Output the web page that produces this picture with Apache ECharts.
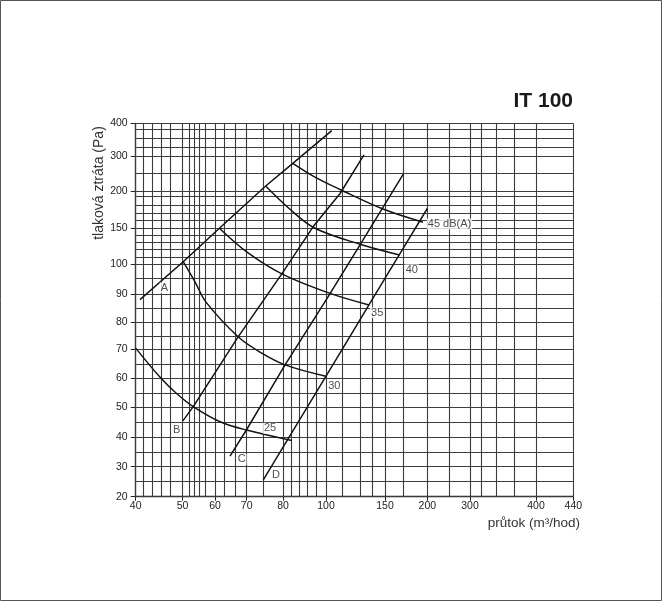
<!DOCTYPE html>
<html><head><meta charset="utf-8">
<script src="https://cdn.jsdelivr.net/npm/echarts@6/dist/echarts.min.js"></script>
<style>html,body{margin:0;padding:0;background:#fff}#c{width:662px;height:601px}</style>
</head><body><div id="c"></div>
<script>
// ---- tick labels ----
const xLabelValues = [40,50,60,70,80,100,150,200,300,400,440];
const yLabelValues = [20,30,40,50,60,70,80,90,100,150,200,300,400];

// ---- grid line values and the (non-standard) scale calibration of the original paper ----
const xGridValues = [40,42,44,46,48,50,52,54,56,58,60,63,67,70,75,80,84,88,92,96,100,110,125,135,150,175,200,250,300,325,350,375,400,440];
const xScaleDist  = [0,7.8,16.3,25.3,35,46.8,53.8,58.8,63.8,69.3,79.3,88.8,99.3,111,127.6,147.3,155.5,163.5,171.6,180.1,190.3,206.3,224.8,236.3,249.3,267.6,291.6,313.6,334.3,346,360.3,378.3,400.3,437.6];
const yGridValues = [20,25,30,35,40,45,50,55,60,65,70,75,80,85,90,95,100,110,120,130,140,150,160,170,180,190,200,250,300,325,350,375,400];
const yScaleDist  = [0,15,30,44.7,59.7,74.7,89.2,103.7,118.2,132.7,147.2,160.7,174.2,188.7,202.7,218.2,232.7,239.7,247.7,254.7,261.7,268.7,276,283.7,291.2,300.2,305.2,323.2,340.7,349.4,358.4,367.2,373.2];

// ---- system lines (flow m3/hod, pressure Pa) ----
const lineA = [[41.1,88],[50.2,103.3],[61.4,149.6],[75.6,215.3],[84.8,279],[103.6,372]];
const lineB = [[50.1,45.4],[53.5,50.3],[67.8,74.7],[79.7,96.6],[94.8,152],[108.8,196],[128,303]];
const lineC = [[65.1,33.6],[70,42.5],[81,64.7],[100.4,88.2],[124.6,126],[175,248]];
const lineD = [[75,25.6],[81.8,38.6],[100.4,61.2],[108.8,68.8],[134.7,87.7],[175,121.4],[200,176]];

// ---- noise curves dB(A) ----
const curve25 = [[40,70.5],[45.8,60.4],[48.9,55],[53.5,50.3],[61.6,45.1],[70,42.3],[84.3,38.8]];
const curve30 = [[50.2,103.3],[54.2,93.9],[58.2,87.1],[67.8,74.7],[74,69.1],[81,64.7],[100.6,60.7]];
const curve35 = [[61.4,149.6],[70.1,116],[79.7,96.6],[102.5,90.2],[132.4,86.1]];
const curve40 = [[75.6,215.3],[83.4,175],[95.4,150],[125.4,126.4],[169.8,112.5]];
const curve45 = [[84.8,279],[95.6,240],[108.8,205.6],[147.7,175.3],[195.5,158]];

// ---- in-chart labels ----
const markNames = ['A','B','C','D','25','30','35','40','45 dB(A)'];
const markAt = [[46.7,92],[49,42.3],[68.7,32.5],[78.2,27.2],[76.7,42.9],[105.2,57.4],[141,83.4],[183.8,98],[250.5,155.5]];

function interp(vals, dists, v){
  let i = 0;
  while (i < vals.length - 2 && v > vals[i+1]) i++;
  const t = (v - vals[i]) / (vals[i+1] - vals[i]);
  return dists[i] + t * (dists[i+1] - dists[i]);
}
const fx = v => interp(xGridValues, xScaleDist, v);
const fy = v => interp(yGridValues, yScaleDist, v);
const toAxis = arr => arr.map(p => [fx(p[0]), fy(p[1])]);
function backLabel(list, f, u){
  let best = list[0], bd = 1e9;
  list.forEach(v => { const d = Math.abs(f(v) - u); if (d < bd){bd = d; best = v;} });
  return String(best);
}

const XMAX = xScaleDist[xScaleDist.length-1];
const YMAX = yScaleDist[yScaleDist.length-1];
const FONT = '"Liberation Sans", Arial, sans-serif';
const ink = '#141414';

const gridLines = [];
xGridValues.forEach(v => gridLines.push({xAxis: fx(v)}));
yGridValues.forEach(v => gridLines.push({yAxis: fy(v)}));

const curveStyle = {color: ink, width: 1.5};
function lineSeries(name, data, smooth){
  return {name, type:'line', data: toAxis(data), symbol:'none', smooth: smooth ? 0.35 : false,
    lineStyle: curveStyle, z: 5, silent: true, animation: false};
}

const chart = echarts.init(document.getElementById('c'), null, {renderer:'canvas'});
chart.setOption({
  backgroundColor: '#fff',
  animation: false,
  title: {text:'IT 100', right: 84, top: 86,
    textStyle:{fontFamily: FONT, fontSize: 21, fontWeight:'bold', color:'#1a1a1a'}},
  grid: {left: 135.7, right: 88.7, top: 123.5, bottom: 104.3, containLabel: false},
  xAxis: {type:'value', min:0, max:XMAX,
    axisLine:{show:true, lineStyle:{color:'#222', width:1.3}},
    splitLine:{show:false},
    axisTick:{show:true, customValues: xLabelValues.map(fx), length:4, lineStyle:{color:'#222'}},
    axisLabel:{customValues: xLabelValues.map(fx), margin:4, fontSize:10.5, fontFamily:FONT, color:'#222',
      formatter: u => backLabel(xLabelValues, fx, u)}},
  yAxis: {type:'value', min:0, max:YMAX,
    axisLine:{show:true, lineStyle:{color:'#222', width:1.3}},
    splitLine:{show:false},
    axisTick:{show:true, customValues: yLabelValues.map(fy), length:5, lineStyle:{color:'#222'}},
    axisLabel:{customValues: yLabelValues.map(fy), margin:8, fontSize:10.5, fontFamily:FONT, color:'#222',
      formatter: u => backLabel(yLabelValues, fy, u)}},
  graphic: [
    {type:'rect', shape:{x:0.5, y:0.5, width:661, height:600}, style:{fill:null, stroke:'#555', lineWidth:1}, silent:true},
    {type:'text', x:99, y:183, rotation: Math.PI/2, silent:true,
      style:{text:'tlaková ztráta (Pa)', font:'14px ' + FONT, fill:'#333', textAlign:'center', textVerticalAlign:'middle'}},
    {type:'text', x:580, y:523, silent:true,
      style:{text:'průtok (m³/hod)', font:'13.5px ' + FONT, fill:'#333', textAlign:'right', textVerticalAlign:'middle'}}
  ],
  series: [
    {name:'grid', type:'line', data:[], silent:true, z:1,
      markLine:{silent:true, symbol:['none','none'], label:{show:false}, animation:false,
        lineStyle:{color:'#3c3c3c', width:1.1, type:'solid'}, emphasis:{disabled:true}, data: gridLines}},
    lineSeries('A', lineA, false),
    lineSeries('B', lineB, false),
    lineSeries('C', lineC, false),
    lineSeries('D', lineD, false),
    lineSeries('25', curve25, true),
    lineSeries('30', curve30, true),
    lineSeries('35', curve35, true),
    lineSeries('40', curve40, true),
    lineSeries('45', curve45, true),
    {name:'labels', type:'scatter', symbolSize:1, z:6, silent:true,
      itemStyle:{color:'transparent'},
      label:{show:true, position:'inside', formatter: p => p.name, fontFamily:FONT, fontSize:11, color:'#222',
        backgroundColor:'#fff', padding:[0,1]},
      data: markAt.map((p,i) => ({name: markNames[i], value:[fx(p[0]), fy(p[1])]}))}
  ]
});
</script></body></html>
